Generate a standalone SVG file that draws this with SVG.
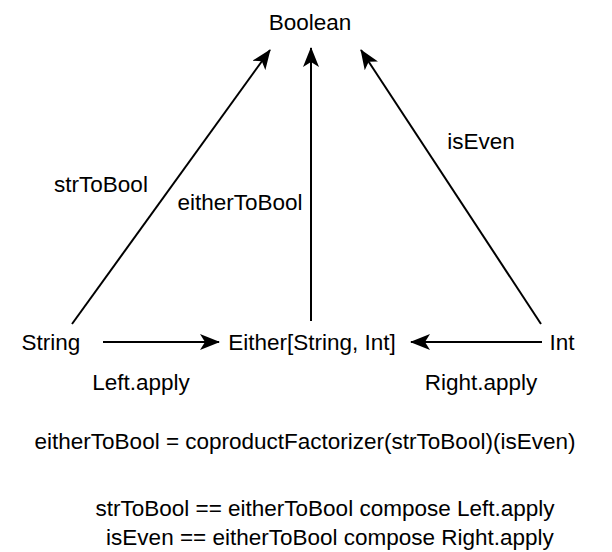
<svg xmlns="http://www.w3.org/2000/svg" width="612" height="552" viewBox="0 0 612 552">
<style>
text{font-family:"Liberation Sans",Arial,Helvetica,sans-serif;font-size:22.5px;fill:#000;text-anchor:middle;dominant-baseline:central}
.c{stroke:#000;stroke-width:2;fill:none}
</style>
<defs>
<marker id="ah" viewBox="0 0 20 16" refX="19" refY="8" markerWidth="20" markerHeight="16" markerUnits="userSpaceOnUse" orient="auto">
<path d="M0,0 L20,8 L0,16 L5,8 Z" fill="#000"/>
</marker>
</defs>
<rect width="612" height="552" fill="#fff"/>
<g id="connectors">
<line class="c" x1="72" y1="324" x2="270" y2="50" marker-end="url(#ah)"/>
<line class="c" x1="311" y1="321" x2="311" y2="48" marker-end="url(#ah)"/>
<line class="c" x1="541" y1="324" x2="361" y2="50" marker-end="url(#ah)"/>
<line class="c" x1="103" y1="342" x2="219" y2="342" marker-end="url(#ah)"/>
<line class="c" x1="542" y1="342" x2="411" y2="342" marker-end="url(#ah)"/>
</g>
<g id="boolean"><text x="310" y="22">Boolean</text></g>
<g id="string"><text x="51" y="342">String</text></g>
<g id="either"><text x="312" y="342">Either[String, Int]</text></g>
<g id="int"><text x="562" y="342">Int</text></g>
<g id="labels">
<text x="101" y="184">strToBool</text>
<text x="240" y="202">eitherToBool</text>
<text x="481" y="141">isEven</text>
<text x="141" y="382">Left.apply</text>
<text x="481" y="382">Right.apply</text>
<text x="305" y="441">eitherToBool = coproductFactorizer(strToBool)(isEven)</text>
<text x="325" y="508">strToBool == eitherToBool compose Left.apply</text>
<text x="330" y="537">isEven == eitherToBool compose Right.apply</text>
</g>
</svg>
